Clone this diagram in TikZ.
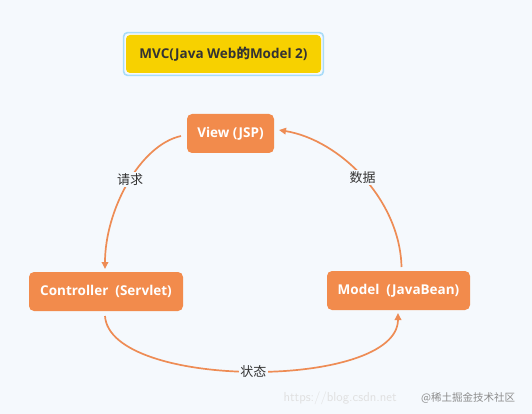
\documentclass[tikz,border=0pt]{standalone}
\usepackage{fontspec}
\setmainfont{Open Sans}
\newfontfamily\cjk{Noto Sans CJK SC}
\usetikzlibrary{arrows.meta,fit}
\definecolor{bgc}{HTML}{F5F9FD}
\definecolor{orangebox}{HTML}{F28B4C}
\definecolor{linec}{HTML}{EE8C55}
\definecolor{yellowbox}{HTML}{F7D100}
\definecolor{bluebord}{HTML}{A9DCF8}
\definecolor{txt}{HTML}{333333}
\tikzset{
  box/.style={fill=orangebox, rounded corners=5pt, minimum height=39pt, inner sep=0pt,
    text=white, font=\fontsize{13.5}{16}\selectfont\bfseries},
  conn/.style={draw=linec, line width=1.7pt, -{Triangle[length=7pt,width=6.5pt]}},
  lab/.style={fill=bgc, text=txt, inner sep=1.5pt, font=\fontsize{13}{15}\selectfont\cjk}
}
\begin{document}
\begin{tikzpicture}[x=1pt,y=-1pt]
\path[fill=bgc] (0,0) rectangle (532,414);
\node[fill=yellowbox, rounded corners=4pt, minimum width=195pt, minimum height=38pt, inner sep=0pt,
  text=txt, font=\fontsize{13.5}{16}\selectfont\bfseries] (title) at (223.5,54) {MVC(Java Web{\cjk 的}Model 2)};
\node[fit=(title), draw=bluebord, line width=1.6pt, rounded corners=4pt, inner sep=2.2pt] (titleframe) {};
\node[box, minimum width=87pt] (view) at (230.5,133.5) {View (JSP)};
\node[box, minimum width=154pt] (ctrl) at (106,291.5) {Controller\ \ (Servlet)};
\node[box, minimum width=143pt] (model) at (398.5,290.5) {Model\ \ (JavaBean)};
\coordinate (v1) at (181,136);
\coordinate (c1) at (105,269);
\coordinate (m1) at (401.5,267);
\coordinate (v2) at (279,130);
\coordinate (c2) at (105,316);
\coordinate (m2) at (398,313);
\draw[conn] (v1) .. controls (140,145) and (105,210) .. (c1) node[lab, pos=0.47] (lq) {请求};
\draw[conn] (m1) .. controls (400,200) and (340,140) .. (v2) node[lab, pos=0.5] (ls) {数据};
\draw[conn] (c2) .. controls (110,390) and (398,390) .. (m2) node[lab, pos=0.5] (lz) {状态};
\node[text=black!12, font=\fontsize{13}{15}\selectfont\sffamily, anchor=west] (wm1) at (280,398) {https://blog.csdn.net};
\node[text=black!45, font=\fontsize{10.5}{12}\selectfont\cjk, anchor=west, fill=bgc, fill opacity=0.6, text opacity=1, inner sep=1pt] (wm2) at (420,398) {@稀土掘金技术社区};
\end{tikzpicture}
\end{document}
